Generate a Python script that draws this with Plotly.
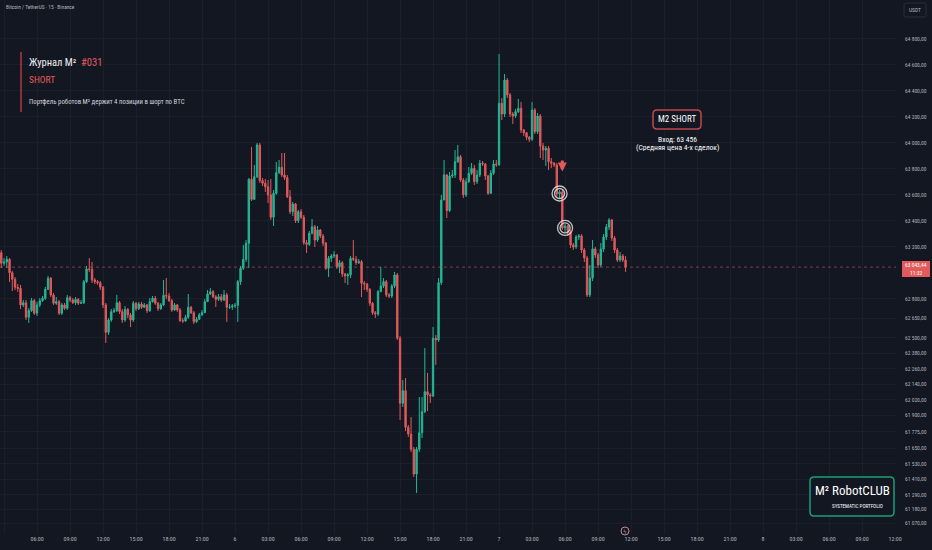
import pandas as pd
import plotly.graph_objects as go

# 15-minute BTC/USDT candles (first open, then close/high/low per bar)
first_open = 63229
closes = [
    63154, 63073, 63083, 63103, 63000, 62949, 62888, 62880, 62752, 62769, 62657, 62708,
    62785, 62688, 62752, 62785, 62803, 62872, 62957, 62829, 62765, 62777, 62688, 62752,
    62726, 62808, 62790, 62769, 62795, 62765, 62769, 62931, 63029, 63026, 62944, 62931,
    62923, 62888, 62752, 62541, 62636, 62700, 62708, 62769, 62700, 62636, 62718, 62675,
    62636, 62765, 62723, 62759, 62734, 62752, 62708, 62777, 62803, 62765, 62723, 62752,
    62826, 62821, 62785, 62713, 62752, 62713, 62631, 62628, 62657, 62734, 62692, 62623,
    62641, 62675, 62692, 62777, 62836, 62854, 62815, 62795, 62815, 62790, 62829, 62734,
    62736, 62744, 62749,
    62931, 63034, 63103, 63227, 63719, 63565, 63739, 63984, 63709, 63689, 63662, 63599,
    63427, 63612, 63770, 63812, 63753, 63732, 63585, 63470, 63529, 63401, 63470, 63427,
    63231, 63219, 63304, 63354, 63252, 63329, 63283, 63227, 63034, 63111, 63129, 63137,
    63046, 63077, 62990, 62975, 62983, 63111, 63103, 63077, 63085, 62919, 62913, 62872,
    62765, 62692, 62682, 62854, 62898, 62931, 62829, 62821, 62898, 62983,
    62495, 61995, 62092, 61810, 61758, 61640, 61450, 61640, 61768, 61930, 62084, 62059,
    62051, 62495, 62482, 62923, 63560, 63753, 63478, 63745, 63753, 63855, 63893, 63714,
    63599, 63701, 63766, 63804, 63701, 63753, 63843, 63837, 63745, 63612, 63766, 63837,
    63832,
    64305, 64222, 64484, 64369, 64222, 64207, 64240, 64266, 64099, 64078, 64043, 64027,
    64253, 64086, 64207, 63976, 63945, 63958, 63855, 63843, 63830, 63606, 63622, 63344,
    63360, 63314, 63214, 63198, 63275, 63283, 63175, 63113, 62829, 62959, 63183, 63137,
    63060, 63183, 63275, 63352, 63406, 63267, 63175, 63098, 63129, 63098, 63043,
]
highs = [
    63252, 63175, 63113, 63129, 63113, 63013, 62967, 62913, 62906, 62790, 62790, 62728,
    62805, 62798, 62775, 62805, 62821, 62890, 62975, 62967, 62844, 62813, 62790, 62767,
    62767, 62829, 62821, 62805, 62813, 62805, 62790, 62944, 63052, 63113, 63083, 62959,
    62944, 62936, 62898, 62767, 62651, 62721, 62728, 62829, 62782, 62721, 62744, 62728,
    62690, 62782, 62775, 62775, 62775, 62767, 62759, 62805, 62821, 62821, 62775, 62767,
    62944, 62959, 62844, 62798, 62767, 62759, 62728, 62651, 62675, 62836, 62744, 62705,
    62659, 62690, 62713, 62798, 62867, 62882, 62867, 62829, 62836, 62836, 62867, 62844,
    62759, 62759, 62767,
    62944, 63052, 63214, 63252, 63729, 63968, 63830, 63999, 63999, 63729, 63722, 63714,
    63722, 63637, 63853, 63868, 63922, 63922, 63753, 63637, 63545, 63537, 63483, 63491,
    63445, 63252, 63321, 63414, 63368, 63360, 63337, 63298, 63237, 63129, 63144, 63167,
    63144, 63098, 63090, 62998, 62998, 63129, 63252, 63129, 63106, 63098, 62936, 62921,
    62882, 62775, 62705, 62867, 63044, 62959, 62944, 62844, 62913, 63006,
    62998, 62513, 62174, 62189, 61828, 61889, 61658, 61658, 62043, 62043, 62420, 62228,
    62074, 62582, 62521, 62959, 63599, 63868, 63760, 63776, 63791, 63945, 63984, 63907,
    63729, 63729, 63814, 63845, 63830, 63791, 63868, 63860, 63845, 63753, 63791, 63868,
    63868,
    64684, 64345, 64530, 64499, 64384, 64238, 64261, 64338, 64315, 64107, 64084, 64053,
    64315, 64268, 64230, 64222, 63999, 63976, 63976, 63883, 63853, 63845, 63637, 63637,
    63375, 63368, 63329, 63229, 63291, 63298, 63298, 63190, 63129, 63060, 63252, 63198,
    63152, 63229, 63298, 63375, 63421, 63414, 63283, 63190, 63160, 63144, 63129,
]
lows = [
    63129, 63036, 63052, 63036, 62929, 62859, 62867, 62852, 62721, 62736, 62636, 62613,
    62698, 62675, 62667, 62736, 62775, 62790, 62867, 62813, 62752, 62752, 62675, 62675,
    62713, 62713, 62775, 62759, 62752, 62752, 62759, 62759, 62921, 63006, 62921, 62913,
    62906, 62867, 62728, 62459, 62521, 62621, 62690, 62698, 62682, 62613, 62621, 62651,
    62582, 62621, 62705, 62713, 62721, 62728, 62690, 62698, 62770, 62752, 62705, 62713,
    62744, 62798, 62775, 62698, 62705, 62698, 62621, 62613, 62621, 62644, 62682, 62605,
    62613, 62636, 62667, 62690, 62775, 62829, 62805, 62736, 62782, 62775, 62782, 62621,
    62721, 62713, 62728,
    62621, 62906, 63021, 63083, 63036, 63552, 63560, 63729, 63691, 63668, 63622, 63537,
    63406, 63360, 63599, 63760, 63737, 63714, 63575, 63452, 63437, 63383, 63383, 63414,
    63214, 63152, 63206, 63295, 63198, 63237, 63267, 63206, 63021, 62967, 63083, 63113,
    63029, 62998, 62967, 62921, 62906, 62959, 63090, 63060, 63067, 62813, 62867, 62852,
    62744, 62675, 62651, 62667, 62852, 62882, 62813, 62805, 62805, 62882,
    62482, 61866, 61966, 61781, 61735, 61620, 61427, 61304, 61620, 61727, 61920, 61935,
    61997, 62043, 62290, 62467, 62906, 63560, 63421, 63468, 63729, 63729, 63845, 63699,
    63575, 63583, 63691, 63753, 63676, 63683, 63737, 63822, 63714, 63599, 63606, 63753,
    63814,
    63822, 64176, 64199, 64345, 64199, 64145, 64191, 64230, 64076, 64053, 64022, 64007,
    64014, 64068, 64068, 63883, 63868, 63822, 63791, 63806, 63814, 63583, 63575, 63329,
    63314, 63283, 63190, 63175, 63183, 63252, 63152, 63083, 62813, 62813, 62936, 63113,
    63036, 63044, 63160, 63252, 63329, 63244, 63152, 63083, 63083, 63083, 63006,
]
# every bar opens where the previous one closed
opens = [first_open] + closes[:-1]
times = pd.date_range("2024-10-05 02:30", periods=len(closes), freq="15min")

# the two double-ring entry marks
entry_times = ["2024-10-07 05:30", "2024-10-07 06:00"]
entry_prices = [63610, 63345]

# 65 000 sits under the USDT badge in the picture, so it is left out
price_ticks = [64800, 64600, 64400, 64200, 64000, 63800, 63600, 63400, 63200,
               62800, 62650, 62500, 62380, 62260, 62140, 62020, 61900, 61775, 61650,
               61530, 61410, 61290, 61180, 61070]
time_labels = ["03:00", "06:00", "09:00", "12:00", "15:00", "18:00", "21:00",
               "6", "03:00", "06:00", "09:00", "12:00", "15:00", "18:00", "21:00",
               "7", "03:00", "06:00", "09:00", "12:00", "15:00", "18:00", "21:00",
               "8", "03:00", "06:00", "09:00", "12:00"]
time_ticks = pd.date_range("2024-10-05 03:00", periods=len(time_labels), freq="3h")

BG = "#131722"
GRID = "#1b1f2b"
UP = "#22b896"
DOWN = "#e25a5c"
TXT = "#b2b5be"
FONT = "Roboto Condensed, Liberation Sans Narrow, DejaVu Sans Condensed, Roboto, sans-serif"

W_PLOT, H_PLOT = 896, 534   # plot area in pixels


def px(x):
    return x / W_PLOT


def py(y):
    return 1 - y / H_PLOT


def rounded_box(l, t, r, b, rad):
    x0, x1 = px(l), px(r)
    y0, y1 = py(b), py(t)
    rx, ry = rad / W_PLOT, rad / H_PLOT
    return (f"M {x0+rx},{y1} L {x1-rx},{y1} Q {x1},{y1} {x1},{y1-ry} "
            f"L {x1},{y0+ry} Q {x1},{y0} {x1-rx},{y0} L {x0+rx},{y0} "
            f"Q {x0},{y0} {x0},{y0+ry} L {x0},{y1-ry} Q {x0},{y1} {x0+rx},{y1} Z")


fig = go.Figure()

fig.add_trace(go.Candlestick(
    x=times, open=opens, high=highs, low=lows, close=closes,
    increasing=dict(line=dict(color=UP, width=1), fillcolor=UP),
    decreasing=dict(line=dict(color=DOWN, width=1), fillcolor=DOWN),
    whiskerwidth=0, hoverinfo="skip", showlegend=False,
))

# entry rings
for size in (15, 10):
    fig.add_trace(go.Scatter(
        x=entry_times, y=entry_prices, mode="markers", showlegend=False, hoverinfo="skip",
        marker=dict(symbol="circle-open", size=size, color="rgba(225,225,225,0.85)",
                    line=dict(width=1.3)),
    ))

shapes = []
annotations = []

# last price dotted line
shapes.append(dict(type="line", xref="paper", yref="y", x0=0, x1=1,
                   y0=closes[-1], y1=closes[-1],
                   line=dict(color="rgba(226,90,92,0.55)", width=1, dash="dot")))

# journal header block
shapes.append(dict(type="line", xref="paper", yref="paper", x0=px(21), x1=px(21),
                   y0=py(52), y1=py(112), line=dict(color="#b13a3e", width=1.5)))
annotations += [
    dict(x=px(4), y=py(7), text="Bitcoin / TetherUS · 15 · Binance", font=dict(size=5.4, color=TXT)),
    dict(x=px(27), y=py(62),
         text=f"Журнал M²  <span style='color:{DOWN}'>#031</span>",
         font=dict(size=10.5, color="#eeeeee")),
    dict(x=px(27), y=py(79), text="SHORT", font=dict(size=9.5, color=DOWN)),
    dict(x=px(27), y=py(102), text="Портфель роботов M² держит 4 позиции в шорт по BTC",
         font=dict(size=6.8, color="#d1d4dc")),
]

# M2 SHORT label
shapes.append(dict(type="path", xref="paper", yref="paper", path=rounded_box(653, 110, 701, 129, 4),
                   line=dict(color="#c0474d", width=1.5), fillcolor=BG))
annotations += [
    dict(x=px(677), y=py(119.5), text="M2 SHORT", xanchor="center", font=dict(size=9, color="#ffffff")),
    dict(x=px(677), y=py(139.5), text="Вход: 63 456", xanchor="center", font=dict(size=7.6, color="#ffffff")),
    dict(x=px(677), y=py(147.5), text="(Средняя цена 4-х сделок)", xanchor="center",
         font=dict(size=7.6, color="#ffffff")),
]

# red arrow above the entries
annotations.append(dict(x="2024-10-07 05:45", y=63780, xref="x", yref="y", text="",
                        showarrow=True, ax=0, ay=-11, arrowhead=2, arrowsize=0.6,
                        arrowwidth=3, arrowcolor=DOWN))

# RobotCLUB logo box
shapes.append(dict(type="path", xref="paper", yref="paper", path=rounded_box(810, 477, 894, 516, 4),
                   line=dict(color="#1c9d77", width=1.5), fillcolor=BG))
annotations += [
    dict(x=px(852), y=py(490), text="M² RobotCLUB", xanchor="center", font=dict(size=13, color="#ffffff")),
    dict(x=px(885), y=py(506), text="SYSTEMATIC PORTFOLIO", xanchor="right", font=dict(size=5.1, color="#ffffff")),
]

# USDT badge on the price scale
shapes.append(dict(type="path", xref="paper", yref="paper", path=rounded_box(904, 3, 926, 17, 2),
                   line=dict(color="#2a2e39", width=1), fillcolor=BG))
annotations.append(dict(x=px(915), y=py(10), text="USDT", xanchor="center", font=dict(size=5.5, color=TXT)))

# last price tag
shapes.append(dict(type="rect", xref="paper", yref="paper", x0=px(902), x1=px(930),
                   y0=py(277), y1=py(261), line=dict(width=0), fillcolor=DOWN))
annotations += [
    dict(x=px(916), y=py(265.5), text="63 043,44", xanchor="center", font=dict(size=5.5, color="#ffffff")),
    dict(x=px(916), y=py(272.5), text="11:32", xanchor="center", font=dict(size=5.5, color="#ffffff")),
]

# small replay icon near the time axis
shapes.append(dict(type="circle", xref="paper", yref="paper", x0=px(621), x1=px(629),
                   y0=py(535), y1=py(527), line=dict(color="#c28a8c", width=1)))
annotations.append(dict(x=px(625), y=py(531), text="ϟ", xanchor="center", font=dict(size=6, color="#c28a8c")))

for a in annotations:
    a.setdefault("xref", "paper")
    a.setdefault("yref", "paper")
    a.setdefault("showarrow", False)
    a.setdefault("xanchor", "left")
    a.setdefault("yanchor", "middle")

price_labels = [f"{v:,.2f}".replace(",", " ").replace(".", ",") for v in price_ticks]

fig.update_layout(
    width=932, height=550,
    margin=dict(l=0, r=36, t=0, b=16),
    paper_bgcolor=BG, plot_bgcolor=BG,
    font=dict(family=FONT, color=TXT),
    showlegend=False,
    shapes=shapes, annotations=annotations,
    xaxis=dict(
        range=["2024-10-05 02:38", "2024-10-08 12:05"],
        rangeslider=dict(visible=False),
        tickvals=time_ticks, ticktext=time_labels,
        tickfont=dict(size=6, color=TXT), ticks="", showline=False, zeroline=False,
        showgrid=True, gridcolor=GRID, gridwidth=1,
    ),
    yaxis=dict(
        side="right", range=[60988, 65100],
        tickvals=price_ticks, ticktext=price_labels,
        tickfont=dict(size=5.5, color=TXT), ticks="", ticklabelstandoff=8,
        showline=False, zeroline=False, showgrid=True, gridcolor=GRID, gridwidth=1,
    ),
)

# page margin off so the 932x550 figure sits flush in the window; no toolbar
fig.write_html("out.html", config={"displayModeBar": False},
               post_script="document.body.style.margin='0';")
